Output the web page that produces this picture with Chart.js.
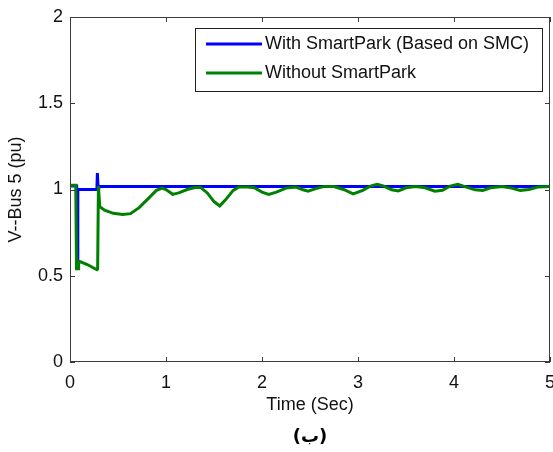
<!DOCTYPE html>
<html>
<head>
<meta charset="utf-8">
<script src="https://cdn.jsdelivr.net/npm/chart.js@4.4.0/dist/chart.umd.min.js"></script>
<style>
  html, body { margin: 0; padding: 0; background: #fff; }
  #wrap { position: relative; width: 553px; height: 452px; }
</style>
</head>
<body>
<div id="wrap"><canvas id="busChart"></canvas></div>
<script>
// series (time in s, voltage in pu)
const timeWith = [0, 0.07, 0.073, 0.08, 0.083, 0.28, 0.285, 0.292, 0.3, 0.6, 1.0, 1.5, 2.0, 2.5, 3.0, 3.5, 4.0, 4.5, 5.0];
const voltWith = [1.02, 1.02, 0.56, 0.56, 1.0, 1.0, 1.095, 1.02, 1.017, 1.018, 1.017, 1.018, 1.017, 1.018, 1.017, 1.018, 1.017, 1.018, 1.017];

const timeWithout = [0, 0.06, 0.068, 0.085, 0.09, 0.18, 0.28, 0.288, 0.296, 0.31, 0.36, 0.45, 0.55, 0.63, 0.72,
  0.82, 0.9, 0.96, 1.0, 1.07, 1.14, 1.22, 1.3, 1.36, 1.43, 1.5, 1.56, 1.62, 1.7, 1.76, 1.85, 1.92, 2.0, 2.07, 2.15,
  2.25, 2.35, 2.42, 2.48, 2.56, 2.65, 2.75, 2.85, 2.95, 3.05, 3.13, 3.2, 3.27, 3.35, 3.42, 3.5, 3.6, 3.7, 3.8, 3.88,
  3.96, 4.04, 4.12, 4.22, 4.3, 4.38, 4.5, 4.6, 4.69, 4.78, 4.88, 5.0];
const voltWithout = [1.025, 1.025, 0.54, 0.54, 0.585, 0.565, 0.535, 0.54, 1.02, 0.9, 0.88, 0.862, 0.855, 0.86, 0.895,
  0.95, 0.995, 1.008, 1.0, 0.972, 0.982, 1.0, 1.012, 1.012, 0.98, 0.93, 0.905, 0.94, 0.995, 1.015, 1.015, 1.01, 0.985, 0.972, 0.985,
  1.008, 1.015, 1.0, 0.99, 1.005, 1.018, 1.017, 1.0, 0.975, 0.995, 1.02, 1.03, 1.02, 0.998, 0.992, 1.01, 1.018, 1.01, 0.99, 0.995,
  1.02, 1.03, 1.015, 0.998, 0.995, 1.01, 1.017, 1.008, 0.995, 1.0, 1.015, 1.017];

const seriesNames = ['With SmartPark (Based on SMC)', 'Without SmartPark'];
const xTicks = [0, 1, 2, 3, 4, 5];
const yTicks = [0, 0.5, 1, 1.5, 2];
const xTitle = 'Time (Sec)';
const yTitle = 'V--Bus 5 (pu)';
const caption = '(ب)';

const FONT = '"Liberation Sans", Arial, sans-serif';
const AXIS = '#3a3a3a';

const toPoints = (xs, ys) => xs.map((x, i) => ({ x: x, y: ys[i] }));

// MATLAB style box, inward ticks, boxed legend and caption
const matlabFrame = {
    id: 'matlabFrame',
    afterDatasetsDraw(chart) {
        const { ctx, chartArea: a, scales } = chart;
        const tl = 5;
        ctx.save();
        ctx.strokeStyle = AXIS;
        ctx.lineWidth = 1;
        ctx.strokeRect(a.left + 0.5, a.top + 0.5, a.right - a.left - 1, a.bottom - a.top - 1);

        ctx.beginPath();
        xTicks.forEach(v => {
            const px = Math.round(scales.x.getPixelForValue(v)) + 0.5;
            ctx.moveTo(px, a.bottom); ctx.lineTo(px, a.bottom - tl);
            ctx.moveTo(px, a.top); ctx.lineTo(px, a.top + tl);
        });
        yTicks.forEach(v => {
            const py = Math.round(scales.y.getPixelForValue(v)) + 0.5;
            ctx.moveTo(a.left, py); ctx.lineTo(a.left + tl, py);
            ctx.moveTo(a.right, py); ctx.lineTo(a.right - tl, py);
        });
        ctx.stroke();

        // legend box
        const lx = 195, ly = 28, lw = 347, lh = 63;
        ctx.fillStyle = '#fff';
        ctx.fillRect(lx, ly, lw, lh);
        ctx.strokeStyle = '#222';
        ctx.strokeRect(lx + 0.5, ly + 0.5, lw, lh);
        const rows = [44, 73];
        chart.data.datasets.forEach((ds, i) => {
            ctx.strokeStyle = ds.borderColor;
            ctx.lineWidth = 3;
            ctx.beginPath();
            ctx.moveTo(206, rows[i]);
            ctx.lineTo(262, rows[i]);
            ctx.stroke();
            ctx.fillStyle = '#111';
            ctx.font = '18px ' + FONT;
            ctx.textBaseline = 'middle';
            ctx.textAlign = 'left';
            ctx.fillText(ds.label, 265, rows[i]);
        });
        ctx.restore();
    },
    afterDraw(chart) {
        const { ctx, chartArea: a } = chart;
        ctx.save();
        ctx.fillStyle = '#000';
        ctx.font = 'bold 18px "DejaVu Sans", sans-serif';
        ctx.textAlign = 'center';
        ctx.textBaseline = 'middle';
        ctx.fillText(caption, (a.left + a.right) / 2, 437);
        ctx.restore();
    }
};

const ctx = document.getElementById('busChart').getContext('2d');

new Chart(ctx, {
    type: 'line',
    data: {
        datasets: [
            {
                label: seriesNames[0],
                data: toPoints(timeWith, voltWith),
                borderColor: '#0000ff',
                borderWidth: 3,
                pointRadius: 0,
                tension: 0,
                order: 2
            },
            {
                label: seriesNames[1],
                data: toPoints(timeWithout, voltWithout),
                borderColor: '#008000',
                borderWidth: 3,
                pointRadius: 0,
                tension: 0,
                order: 1
            }
        ]
    },
    options: {
        responsive: true,
        maintainAspectRatio: false,
        animation: false,
        layout: { padding: { top: 17, right: 3, left: 0, bottom: 0 } },
        plugins: {
            legend: { display: false },
            tooltip: { enabled: false }
        },
        scales: {
            x: {
                type: 'linear',
                min: 0,
                max: 5,
                afterBuildTicks: s => { s.ticks = xTicks.map(v => ({ value: v })); },
                afterFit: s => { s.height = 90; s.paddingLeft = 0; s.paddingRight = 0; },
                grid: { display: false, drawTicks: false },
                border: { display: false },
                ticks: {
                    color: '#111',
                    padding: 10,
                    maxRotation: 0,
                    font: { family: FONT, size: 18 },
                    callback: v => String(v)
                },
                title: {
                    display: true,
                    text: xTitle,
                    color: '#111',
                    font: { family: FONT, size: 18 },
                    padding: { top: 0, bottom: 36 }
                }
            },
            y: {
                min: 0,
                max: 2,
                afterBuildTicks: s => { s.ticks = yTicks.map(v => ({ value: v })); },
                afterFit: s => { s.width = 70; s.paddingTop = 0; s.paddingBottom = 0; },
                grid: { display: false, drawTicks: false },
                border: { display: false },
                ticks: {
                    color: '#111',
                    padding: 7,
                    font: { family: FONT, size: 18 },
                    callback: v => String(v)
                },
                title: {
                    display: true,
                    text: yTitle,
                    color: '#111',
                    font: { family: FONT, size: 18 },
                    padding: { top: 5, bottom: 0 }
                }
            }
        }
    },
    plugins: [matlabFrame]
});
</script>
</body>
</html>
